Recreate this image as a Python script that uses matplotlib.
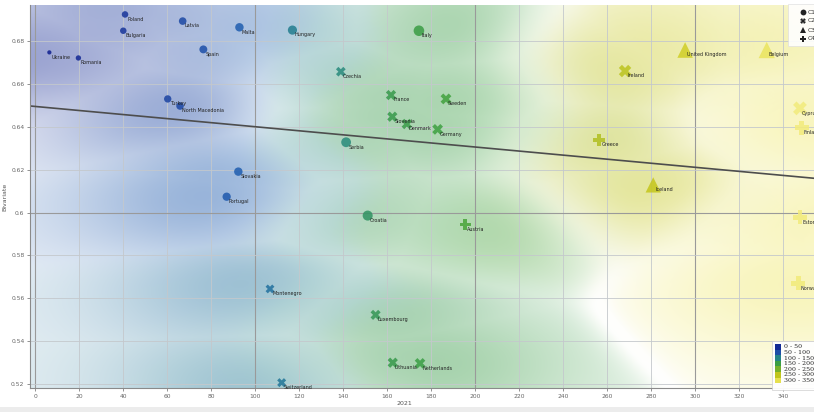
import numpy as np
import matplotlib
matplotlib.use("Agg")
import matplotlib.pyplot as plt
from matplotlib.colors import LinearSegmentedColormap
from matplotlib.lines import Line2D

# ---- data -------------------------------------------------------------
countries = [
    "Poland", "Bulgaria", "Latvia", "Malta", "Ukraine", "Romania", "Spain",
    "Turkey", "North Macedonia", "Hungary", "Italy", "Serbia", "Croatia",
    "Slovakia", "Portugal",
    "Czechia", "France", "Sweden", "Slovenia", "Denmark", "Germany",
    "Ireland", "Cyprus", "Montenegro", "Luxembourg", "Lithuania",
    "Netherlands", "Switzerland",
    "United Kingdom", "Belgium", "Iceland",
    "Finland", "Greece", "Austria", "Estonia", "Norway",
]
value_2021 = [
    40.9, 40.1, 67.1, 92.9, 6.5, 19.7, 76.5,
    60.3, 65.9, 117.0, 174.5, 141.4, 151.2,
    92.4, 87.1,
    139.0, 161.8, 186.8, 162.4, 169.0, 183.0,
    268.2, 347.7, 106.8, 154.8, 162.6,
    175.0, 112.1,
    295.5, 332.6, 281.0,
    348.5, 256.5, 195.5, 347.7, 347.0,
]
value_y = [
    0.6924, 0.6848, 0.6893, 0.6864, 0.6747, 0.6721, 0.6761,
    0.6530, 0.6497, 0.6851, 0.6848, 0.6328, 0.5986,
    0.6191, 0.6074,
    0.6657, 0.6548, 0.6530, 0.6447, 0.6413, 0.6388,
    0.6660, 0.6486, 0.5644, 0.5523, 0.5300,
    0.5297, 0.5207,
    0.6758, 0.6758, 0.6129,
    0.6396, 0.6338, 0.5945, 0.5978, 0.5670,
]
cluster = (["C1"] * 15 + ["C2"] * 13 + ["C3"] * 3 + ["C4"] * 5)
cluster_names = ["C1", "C2", "C3", "C4"]
cluster_markers = {"C1": "o", "C2": "X", "C3": "^", "C4": "P"}

legend_bins = ["0 - 50", "50 - 100", "100 - 150", "150 - 200",
               "200 - 250", "250 - 300", "300 - 350"]
value_range = (0, 350)

# regression line (intercept, slope)
reg_intercept = 0.6495
reg_slope = -9.46e-5

x_label = "2021"
y_label = "Bivariate"

# ---- styling ----------------------------------------------------------
cmap = LinearSegmentedColormap.from_list("bgy", [
    (0.00, "#0d1b8c"), (0.15, "#1a3c9e"), (0.27, "#1f5fb0"),
    (0.34, "#22808c"), (0.41, "#2a8c78"), (0.45, "#36984e"),
    (0.52, "#3ca040"), (0.60, "#55a830"), (0.72, "#aebe22"),
    (0.82, "#c8c81a"), (0.92, "#e4de48"), (1.00, "#f3ec7e"),
])
norm = plt.Normalize(*value_range)

xv = np.array(value_2021)
yv = np.array(value_y)

xlim = (-2.3, 365.0)
ylim = (0.5182, 0.6968)

W, H = 814, 412
fig = plt.figure(figsize=(W / 100, H / 100), dpi=100)
fig.patch.set_facecolor("white")
ax_left, ax_right, ax_top, ax_bot = 30, 838, 5, 388
ax = fig.add_axes([ax_left / W, (H - ax_bot) / H,
                   (ax_right - ax_left) / W, (ax_bot - ax_top) / H])
ax.set_xlim(*xlim)
ax.set_ylim(*ylim)

# ---- colour regions ---------------------------------------------------
# hue from a kernel-weighted mean of nearby values; strength from how much
# the neighbours agree and how close the nearest point is
res_x, res_y = 320, 200
gx = np.linspace(0, 1, res_x)
gy = np.linspace(0, 1, res_y)
GX, GY = np.meshgrid(gx, gy)
px = (xv - xlim[0]) / (xlim[1] - xlim[0])
py = (yv - ylim[0]) / (ylim[1] - ylim[0])
d = np.sqrt((GX[..., None] - px) ** 2 + (GY[..., None] - py) ** 2)
vals = norm(xv)
w = np.exp(-(d / 0.1) ** 2) + 1e-12
mean = (w * vals).sum(axis=-1) / w.sum(axis=-1)
std = np.sqrt((w * (vals - mean[..., None]) ** 2).sum(axis=-1) / w.sum(axis=-1))
near = np.exp(-(d.min(axis=-1) / 0.2) ** 2)
agree = np.clip(1 - std / 0.25, 0.05, 1)
alpha = 0.5 * agree * (0.25 + 0.75 * near)
rgb = cmap(mean)[..., :3]
img = 1 - alpha[..., None] + alpha[..., None] * rgb
ax.imshow(img, extent=(xlim[0], xlim[1], ylim[0], ylim[1]), origin="lower",
          aspect="auto", interpolation="bilinear", zorder=0)

# ---- grid -------------------------------------------------------------
xt = np.arange(0, 341, 20)
yt = np.round(np.arange(0.52, 0.681, 0.02), 2)
ax.set_xticks(xt)
ax.set_yticks(yt)
ax.set_xticklabels([f"{t:g}" for t in xt])
ax.set_yticklabels([f"{t:g}" for t in yt])
for t in xt:
    strong = t % 100 == 0
    ax.axvline(t, color="#9a9a9a" if strong else "#c4c8cc",
               lw=0.8 if strong else 0.6, zorder=1)
for t in yt:
    strong = abs(t * 10 - round(t * 10)) < 1e-6
    ax.axhline(t, color="#9a9a9a" if strong else "#c4c8cc",
               lw=0.8 if strong else 0.6, zorder=1)
ax.tick_params(axis="both", labelsize=4.3, colors="#666666", length=2,
               width=0.5, pad=2)
for s in ["top", "right"]:
    ax.spines[s].set_visible(False)
for s in ["left", "bottom"]:
    ax.spines[s].set_color("#8a8a8a")
    ax.spines[s].set_linewidth(0.8)
ax.set_xlabel(x_label, fontsize=4.5, color="#555555", labelpad=2)
ax.set_ylabel(y_label, fontsize=4.5, color="#555555", labelpad=3)
ax.xaxis.set_label_coords((404 - ax_left) / (ax_right - ax_left), -0.035)

# ---- regression line --------------------------------------------------
lx = np.array(xlim)
ax.plot(lx, reg_intercept + reg_slope * lx, color="#4d4d4d", lw=1.2, zorder=2)

# ---- points -----------------------------------------------------------
diam = 2.5 + 0.55 * np.sqrt(xv)  # point size encodes the 2021 value
for c in cluster_names:
    m = np.array([cl == c for cl in cluster])
    ms = diam[m] * 0.78
    if cluster_markers[c] == "^":
        ms = ms * 1.2
    ax.scatter(xv[m], yv[m], s=ms ** 2, marker=cluster_markers[c],
               c=xv[m], cmap=cmap, norm=norm, alpha=0.85,
               linewidths=0, zorder=3)

for name, x, y in zip(countries, xv, yv):
    ax.annotate(name, (x, y), xytext=(1.5, -3.5), textcoords="offset points",
                fontsize=3.5, color="#222222", va="center", ha="left",
                zorder=4)

# ---- shape legend (top right) ----------------------------------------
box = plt.Rectangle((788 / W, 1 - 46 / H), 40 / W, 42 / H,
                    transform=fig.transFigure, facecolor="white",
                    edgecolor="#dddddd", lw=0.5, alpha=0.9, zorder=5)
fig.patches.append(box)
for i, c in enumerate(cluster_names):
    yy = 1 - (12 + 9 * i) / H
    fig.lines.append(Line2D([803 / W], [yy], marker=cluster_markers[c],
                            markerfacecolor="#222222",
                            markeredgecolor="#222222", markeredgewidth=0,
                            markersize=4.2, lw=0,
                            transform=fig.transFigure, zorder=6))
    fig.text(808 / W, yy, c, fontsize=4.3, color="#333333", va="center",
             ha="left", zorder=6)

# ---- colour legend (bottom right) ------------------------------------
box2 = plt.Rectangle((772 / W, 1 - 390 / H), 60 / W, 49 / H,
                     transform=fig.transFigure, facecolor="white",
                     edgecolor="#cccccc", lw=0.5, alpha=0.95, zorder=5)
fig.patches.append(box2)
sw_h = 5.6
for i, lab in enumerate(legend_bins):
    lo = 50 * i + 25
    top = 344 + sw_h * i
    fig.patches.append(plt.Rectangle((775 / W, 1 - (top + sw_h) / H),
                                     6 / W, sw_h / H,
                                     transform=fig.transFigure,
                                     facecolor=cmap(norm(lo)), lw=0,
                                     zorder=6))
    fig.text(784 / W, 1 - (top + sw_h / 2) / H, lab, fontsize=4.5,
             family="DejaVu Serif", color="#222222", va="center",
             ha="left", zorder=6)

# light frame band along the bottom
fig.patches.append(plt.Rectangle((0, 0), 1, 5 / H, transform=fig.transFigure,
                                 facecolor="#ececec", lw=0, zorder=0))

fig.savefig("out.png", dpi=100)
